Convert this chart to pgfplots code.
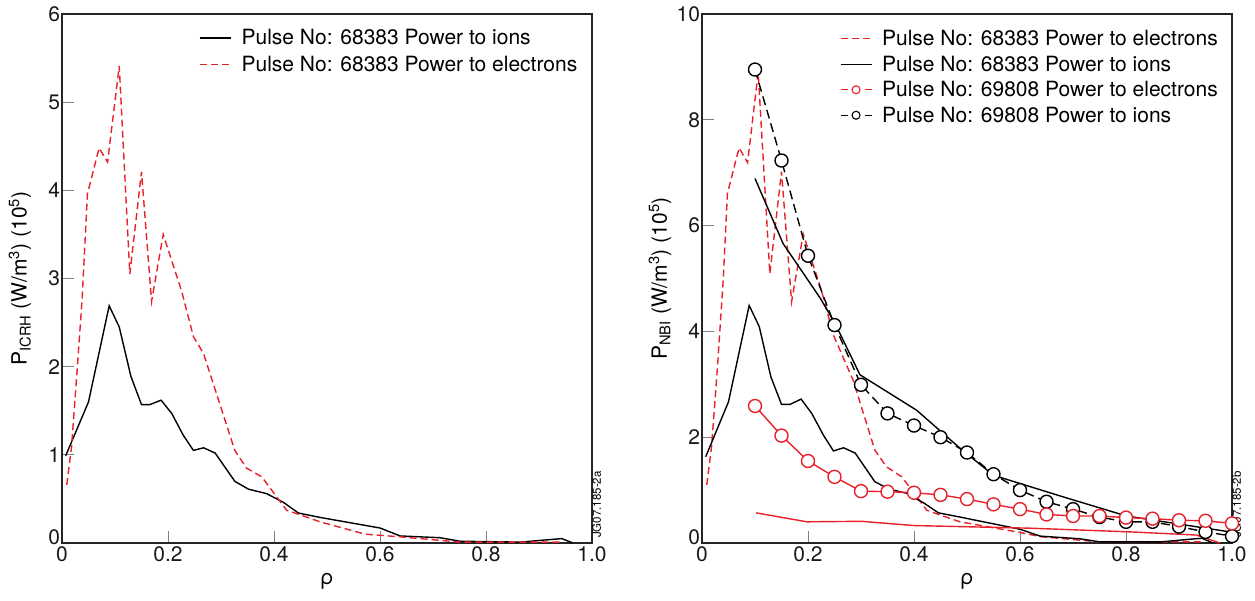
\documentclass[border=0pt]{standalone}
\usepackage{pgfplots}
\pgfplotsset{compat=1.18}
\usepackage{fontspec}
\setmainfont{TeX Gyre Heros}
\definecolor{jred}{RGB}{232,32,42}
\newcommand{\fsz}{\fontsize{21}{25}\selectfont}

\pgfplotsset{
  jetaxis/.style={
    scale only axis, width=530pt, height=529pt,
    xmin=0, xmax=1, ymin=0,
    axis line style={black!85, line width=1.1pt},
    tick align=inside, xtick pos=bottom, ytick pos=left,
    major tick length=12pt,
    tick style={black!50, line width=1pt},
    xtick={0,0.2,0.4,0.6,0.8,1},
    xticklabels={0,0.2,0.4,0.6,0.8,1.0},
    tick label style={font=\fsz, black!90},
    yticklabel style={xshift=1.5pt},
    label style={font=\fsz},
    xlabel={ρ},
    xlabel style={at={([yshift=-30pt]axis description cs:0.5,0)}, anchor=north, inner sep=0pt},
    ylabel style={at={([xshift=-42pt]axis description cs:0,0.5)}, anchor=center},
    clip=false,
    legend cell align=left,
    legend image code/.code={\draw[##1] (0pt,0pt) -- (31pt,0pt);},
    legend style={draw=none, fill=none, font=\fsz, anchor=north west,
      inner sep=0pt, nodes={inner sep=0pt},
      /tikz/every odd column/.append style={column sep=10pt}},
  },
  ions/.style={black, line width=1.4pt},
  elec/.style={jred, line width=1.4pt, dash pattern=on 7pt off 4pt},
}

\begin{document}
\begin{tikzpicture}
\useasboundingbox (0,0) rectangle (1255pt,601pt);

% ---- ICRH ----
\begin{axis}[jetaxis, at={(62pt,58pt)}, anchor=south west,
  ymax=6, ytick={0,1,2,3,4,5,6}, yticklabels={\raisebox{12pt}{0},1,2,3,4,5,6},
  ylabel={P\textsubscript{ICRH} (W/m\textsuperscript{3}) (10\textsuperscript{5})},
  legend style={at={(axis description cs:0.2585,0.971)}, row sep=9.5pt}]
\addplot[ions] coordinates {
  (0.007,0.99) (0.050,1.60) (0.089,2.69) (0.108,2.45) (0.130,1.89)
  (0.150,1.57) (0.166,1.57) (0.187,1.62) (0.207,1.47) (0.229,1.22)
  (0.248,1.05) (0.267,1.08) (0.289,1.02) (0.326,0.70) (0.352,0.61)
  (0.386,0.56) (0.418,0.46) (0.446,0.34) (0.487,0.29) (0.600,0.17)
  (0.638,0.08) (0.713,0.06) (0.751,0.02) (0.864,0.01) (0.943,0.05)
  (0.964,0.00)};
\addlegendentry{Pulse No: 68383 Power to ions}
\addplot[elec] coordinates {
  (0.009,0.66) (0.018,1.09) (0.029,2.00) (0.038,2.77) (0.048,3.96)
  (0.070,4.48) (0.086,4.32) (0.108,5.41) (0.128,3.05) (0.150,4.21)
  (0.169,2.74) (0.191,3.50) (0.226,2.85) (0.248,2.34) (0.267,2.15)
  (0.326,1.05) (0.348,0.85) (0.377,0.75) (0.424,0.37) (0.449,0.32)
  (0.487,0.24) (0.572,0.10) (0.638,0.07) (0.751,0.01) (0.943,0.01)};
\addlegendentry{Pulse No: 68383 Power to electrons}
\node[rotate=90, anchor=north west, inner sep=0pt, xshift=5pt,
  font=\fontsize{11.5}{13}\selectfont] at (rel axis cs:1,0) {JG07.185-2a};
\end{axis}

% ---- NBI ----
\begin{axis}[jetaxis, at={(702pt,58pt)}, anchor=south west,
  ymax=10, ytick={0,2,4,6,8,10}, yticklabels={\raisebox{12pt}{0},2,4,6,8,10},
  ylabel={P\textsubscript{NBI} (W/m\textsuperscript{3}) (10\textsuperscript{5})},
  legend style={at={(axis description cs:0.26,0.9695)}, row sep=8.7pt}]
\addplot[elec, forget plot] coordinates {
  (0.009,1.10) (0.018,1.82) (0.029,3.30) (0.040,4.97) (0.048,6.61)
  (0.070,7.47) (0.086,7.19) (0.106,8.89) (0.128,5.09) (0.150,7.02)
  (0.169,4.56) (0.191,5.84) (0.226,4.75) (0.248,3.93) (0.285,3.08)
  (0.326,1.76) (0.348,1.44) (0.377,1.25) (0.424,0.62) (0.449,0.53)
  (0.487,0.40) (0.600,0.20) (0.638,0.12) (0.751,0.02) (0.943,0.02)};
\addplot[ions, forget plot] coordinates {
  (0.007,1.63) (0.050,2.67) (0.089,4.49) (0.108,4.09) (0.130,3.14)
  (0.150,2.62) (0.166,2.62) (0.187,2.72) (0.207,2.45) (0.229,2.04)
  (0.248,1.74) (0.267,1.80) (0.289,1.70) (0.326,1.16) (0.352,1.02)
  (0.386,0.94) (0.418,0.76) (0.446,0.57) (0.487,0.49) (0.600,0.26)
  (0.638,0.13) (0.713,0.08) (0.751,0.02) (0.864,0.02) (0.943,0.09)
  (0.964,0.00)};
\addplot[ions, forget plot] coordinates {
  (0.100,6.89) (0.153,5.66) (0.223,4.63) (0.251,4.15) (0.298,3.18)
  (0.405,2.51) (0.487,1.79) (0.550,1.28) (0.682,0.87) (0.801,0.51)
  (0.996,0.21)};
\addplot[jred, line width=1.4pt, forget plot] coordinates {
  (0.102,0.57) (0.198,0.40) (0.301,0.41) (0.399,0.33) (0.619,0.28)
  (0.808,0.21) (0.933,0.15) (0.977,0.00)};
\addplot[black, line width=1.4pt, dash pattern=on 9pt off 5pt, mark=*,
  mark size=6.5pt, mark options={solid, fill=white}, forget plot] coordinates {
  (0.10,8.95) (0.15,7.23) (0.20,5.43) (0.25,4.12) (0.30,2.99)
  (0.35,2.45) (0.40,2.22) (0.45,2.00) (0.50,1.71) (0.55,1.30)
  (0.60,1.00) (0.65,0.78) (0.70,0.64) (0.75,0.49) (0.80,0.40)
  (0.85,0.40) (0.90,0.31) (0.95,0.21) (1.00,0.13)};
\addplot[jred, line width=1.4pt, mark=*, mark size=6.5pt,
  mark options={fill=white}, forget plot] coordinates {
  (0.10,2.59) (0.15,2.03) (0.20,1.55) (0.25,1.25) (0.30,0.98)
  (0.35,0.97) (0.40,0.95) (0.45,0.91) (0.50,0.83) (0.55,0.73)
  (0.60,0.64) (0.65,0.54) (0.70,0.51) (0.75,0.51) (0.80,0.48)
  (0.85,0.46) (0.90,0.43) (0.95,0.42) (1.00,0.37)};
\addlegendimage{elec, line width=1.1pt}
\addlegendentry{Pulse No: 68383 Power to electrons}
\addlegendimage{ions, line width=1.1pt}
\addlegendentry{Pulse No: 68383 Power to ions}
\addlegendimage{legend image code/.code={
  \draw[jred, line width=1.1pt] (0pt,0pt) -- (7pt,0pt) (24pt,0pt) -- (31pt,0pt);
  \draw[jred, line width=1.1pt] plot[mark=*, mark size=4pt, mark options={fill=white}] coordinates {(15.5pt,0pt)};}}
\addlegendentry{Pulse No: 69808 Power to electrons}
\addlegendimage{legend image code/.code={
  \draw[black, line width=1.1pt] (0pt,0pt) -- (7pt,0pt) (24pt,0pt) -- (31pt,0pt);
  \draw[black, line width=1.1pt] plot[mark=*, mark size=4pt, mark options={fill=white}] coordinates {(15.5pt,0pt)};}}
\addlegendentry{Pulse No: 69808 Power to ions}
\node[rotate=90, anchor=north west, inner sep=0pt, xshift=5pt,
  font=\fontsize{11.5}{13}\selectfont] at (rel axis cs:1,0) {JG07.185-2b};
\end{axis}
\end{tikzpicture}
\end{document}
